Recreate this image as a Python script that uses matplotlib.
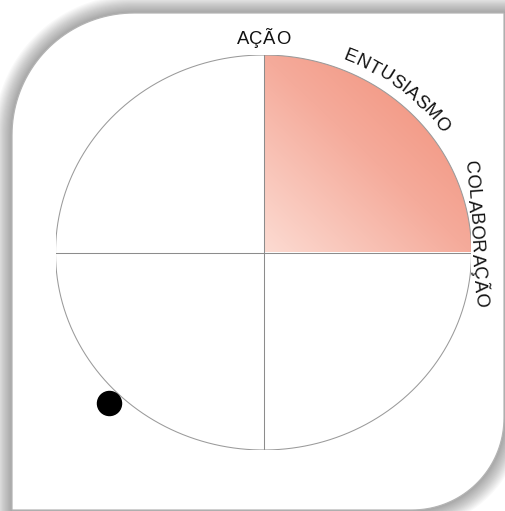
import numpy as np
import matplotlib
matplotlib.use("Agg")
import matplotlib.pyplot as plt
from matplotlib.path import Path
from matplotlib.patches import PathPatch, Polygon
from matplotlib.colors import LinearSegmentedColormap
from matplotlib.font_manager import FontProperties, findfont, get_font

# data
axis_labels = ["AÇÃO", "ENTUSIASMO", "COLABORAÇÃO"]
label_angles = [90, 52, 5.4]          # degrees around the circle
label_radius = [1.056, 1.05, 1.0]     # baseline radius (unit circle = 1)
label_modes = ["straight", "arc", "straight"]
label_rotation = [0, None, -86]
highlight = (0, 90)                   # highlighted quadrant, degrees
point_x = [-0.743]
point_y = [-0.76]

W, H = 505, 511
FS = 13.3
TRACK = 0.4
fp = FontProperties(family="Liberation Sans", size=FS)

fig = plt.figure(figsize=(W / 100, H / 100), dpi=100)
fig.patch.set_facecolor("white")

# background card with shadow
bg = fig.add_axes([0, 0, 1, 1])
bg.set_xlim(0, W)
bg.set_ylim(H, 0)
bg.axis("off")


def card_path(x0, y0, x1, y1, r1, r2, g=0):
    x0, y0, x1, y1 = x0 - g, y0 - g, x1 + g, y1 + g
    r1, r2 = r1 + g, r2 + g
    t = np.linspace(np.pi, 1.5 * np.pi, 40)
    pts = list(zip(x0 + r1 + r1 * np.cos(t), y0 + r1 + r1 * np.sin(t)))
    pts += [(x1, y0), (x1, y1 - r2)]
    t = np.linspace(0, 0.5 * np.pi, 40)
    pts += list(zip(x1 - r2 + r2 * np.cos(t), y1 - r2 + r2 * np.sin(t)))
    pts += [(x0, y1), pts[0]]
    return Path(pts, closed=True)


card = (12, 13, 504, 510, 122, 92)
for g in np.linspace(18, 1, 16):
    bg.add_patch(PathPatch(card_path(*card, g=g), facecolor="black",
                           edgecolor="none", alpha=0.025))
bg.add_patch(PathPatch(card_path(*card), facecolor="white",
                       edgecolor="#b4b4b4", lw=0.9))

# chart
ax = fig.add_axes([55.5 / W, (H - 450) / H, 416 / W, 395 / H])
ax.axis("off")

cmap = LinearSegmentedColormap.from_list(
    "salmon", [(0, "#fcdbd2"), (0.7, "#f5ab9b"), (1, "#f39d8a")])
gx, gy = np.meshgrid(np.linspace(0, 1, 200), np.linspace(0, 1, 200))
a0, a1 = np.radians(highlight)
im = ax.imshow((gx + gy) / 2, extent=(np.cos(a1), np.cos(a0), np.sin(a0), np.sin(a1)),
               origin="lower", cmap=cmap, vmin=0, vmax=0.707, aspect="auto", zorder=1)
tq = np.linspace(a0, a1, 100)
quad = Polygon([(0, 0)] + list(zip(np.cos(tq), np.sin(tq))), closed=True,
               facecolor="none", edgecolor="none")
ax.add_patch(quad)
im.set_clip_path(quad)

tc = np.linspace(0, 2 * np.pi, 400)
ax.plot(np.cos(tc), np.sin(tc), color="#9a9a9a", lw=0.75, zorder=2)
ax.plot([-1, 1], [0, 0], color="#8c8c8c", lw=0.75, zorder=2)
ax.plot([0, 0], [-1, 1], color="#8c8c8c", lw=0.75, zorder=2)

ax.scatter(point_x, point_y, s=300, color="black", zorder=5, clip_on=False)

ax.set_xlim(-1, 1)
ax.set_ylim(-1, 1)

# labels, letter by letter
font = get_font(findfont(fp))
font.set_size(FS, 100)


def offsets(s):
    adv = np.array([font.load_char(ord(c)).linearHoriAdvance / 65536 for c in s])
    total = adv.sum() + TRACK * (len(s) - 1)
    start = np.concatenate([[0], np.cumsum(adv[:-1] + TRACK)])
    return start + adv / 2 - total / 2


def put(x, y, c, rot):
    ax.text(x, y, c, fontproperties=fp, color="#111111", rotation=rot,
            rotation_mode="anchor", ha="center", va="baseline", clip_on=False)


inv = ax.transData.inverted()
for lab, ang, r, mode, rot in zip(axis_labels, label_angles, label_radius,
                                  label_modes, label_rotation):
    pos = offsets(lab)
    a = np.radians(ang)
    if mode == "straight":
        A = ax.transData.transform((r * np.cos(a), r * np.sin(a)))
        d = np.array([np.cos(np.radians(rot)), np.sin(np.radians(rot))])
        for c, p in zip(lab, pos):
            x, y = inv.transform(A + p * d)
            put(x, y, c, rot)
    else:
        t = np.linspace(a + 1.2, a - 1.2, 2000)
        P = ax.transData.transform(np.column_stack([r * np.cos(t), r * np.sin(t)]))
        s = np.concatenate([[0], np.cumsum(np.hypot(*np.diff(P, axis=0).T))])
        smid = np.interp(-a, -t, s)
        for c, p in zip(lab, pos):
            ti = np.interp(smid + p, s, t)
            x, y = r * np.cos(ti), r * np.sin(ti)
            D = ax.transData.transform([(np.cos(ti + 1e-4) * r, np.sin(ti + 1e-4) * r),
                                        (np.cos(ti - 1e-4) * r, np.sin(ti - 1e-4) * r)])
            dv = D[1] - D[0]
            put(x, y, c, np.degrees(np.arctan2(dv[1], dv[0])))

fig.savefig("out.png", dpi=100)
